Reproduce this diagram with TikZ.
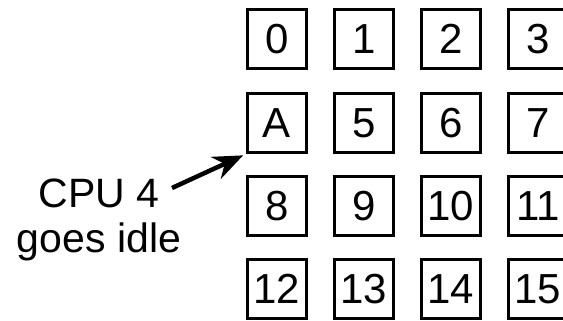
\documentclass[tikz,border=0pt]{standalone}
\usepackage{fontspec}
\setmainfont{Liberation Sans}
\usetikzlibrary{positioning, arrows.meta}

\tikzset{
	cpubox/.style = {draw, line width=3.2pt, minimum size=59pt, inner sep=0pt, font=\fontsize{42}{46}\selectfont},
	lbl/.style = {anchor=base, inner sep=0pt, font=\fontsize{41}{46}\selectfont},
	idlearrow/.style = {-{Stealth[length=30pt, width=24pt]}, line width=4.5pt, shorten >=3pt}
}

\begin{document}
\begin{tikzpicture}[x=1pt, y=1pt, node distance = 87pt]
		\useasboundingbox (0,0) rectangle (563,321);
		
			\node[cpubox] (b0) at (277,282) {0};
			\node[cpubox, right of=b0] (b1) {1};
			\node[cpubox, right of=b1] (b2) {2};
			\node[cpubox, right of=b2] (b3) {3};
			
			\node[cpubox] (b4) at (277,198) {A};
			\node[cpubox, right of=b4] (b5) {5};
			\node[cpubox, right of=b5] (b6) {6};
			\node[cpubox, right of=b6] (b7) {7};
			
			\node[cpubox] (b8) at (277,115) {8};
			\node[cpubox, right of=b8] (b9) {9};
			\node[cpubox, right of=b9] (b10) {10};
			\node[cpubox, right of=b10] (b11) {11};
			
			\node[cpubox] (b12) at (277,32) {12};
			\node[cpubox, right of=b12] (b13) {13};
			\node[cpubox, right of=b13] (b14) {14};
			\node[cpubox, right of=b14] (b15) {15};
			
			% label on the left
			\node[lbl] (cpu) at (99,113) {CPU 4};
			\node[lbl] (idle) at (99,68) {goes idle};
			\coordinate (tail) at (172,133);
			
				\draw[idlearrow] (tail) -- (b4.south west);
		
\end{tikzpicture}
\end{document}
